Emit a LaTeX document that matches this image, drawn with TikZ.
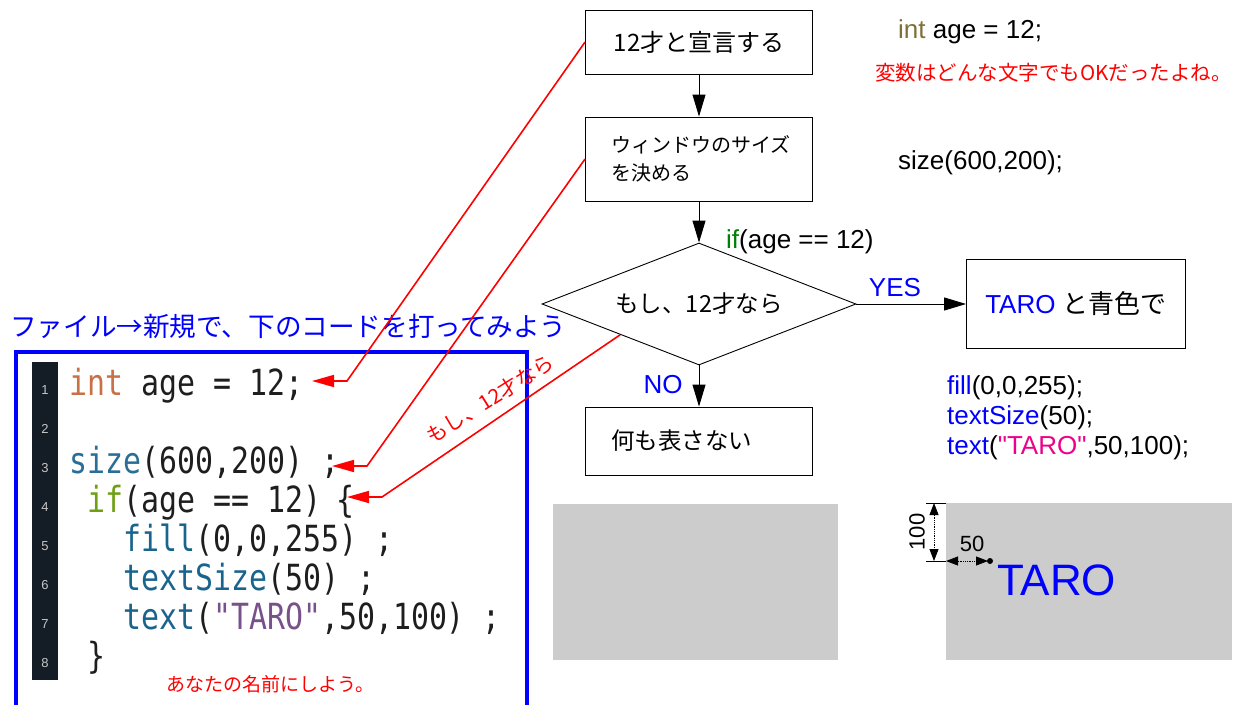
\documentclass[tikz,border=0pt]{standalone}
\usepackage{fontspec}
\setmainfont{Liberation Sans}
\newfontfamily\arialq{Liberation Sans}
\newfontfamily\jp{Noto Sans CJK JP}
\newfontfamily\codefont[FakeStretch=0.83]{DejaVu Sans Mono}
\usetikzlibrary{arrows.meta,shapes.geometric,calc}
\newcommand\myfs[1]{\fontsize{#1pt}{#1pt}\selectfont}
\definecolor{olivetxt}{RGB}{128,112,56}
\definecolor{ifgreen}{RGB}{0,128,0}
\definecolor{grayfill}{RGB}{204,204,204}
\definecolor{gutter}{RGB}{20,28,38}
\definecolor{codeint}{RGB}{200,112,72}
\definecolor{codesize}{RGB}{40,110,150}
\definecolor{codeif}{RGB}{110,160,20}
\definecolor{codefn}{RGB}{25,100,140}
\definecolor{codestr}{RGB}{120,80,140}
\definecolor{codetxt}{RGB}{30,30,30}
\tikzset{
  box/.style={draw=black, line width=0.9pt, minimum width=227pt, inner sep=0pt},
  flow/.style={line width=0.9pt, -{Triangle[length=22pt,width=13pt]}},
  redarrow/.style={red, line width=1.6pt, -{Triangle[length=22pt,width=12pt]}},
  dimarrow/.style={line width=0.8pt, densely dotted, {Triangle[length=12pt,width=9pt]}-{Triangle[length=12pt,width=9pt]}},
  lbl/.style={font=\myfs{26}},
  jpl/.style={font=\jp\myfs{23.5}},
  codeline/.style={font=\codefont\myfs{36}, text=codetxt, anchor=base west},
  lnum/.style={font=\myfs{13}, text=gray!45},
}
\begin{document}
\begin{tikzpicture}[x=1pt,y=-1pt, every node/.style={inner sep=0pt}]
\useasboundingbox (0,0) rectangle (1234,704);

% ---------- flowchart ----------
\node[box, minimum height=64pt, font=\jp\myfs{24}] (b1) at (699,42) {12才と宣言する};
\node[box, minimum height=84pt] (b2) at (699,159) {};
\node[font=\jp\fontsize{20pt}{28pt}\selectfont, anchor=west, align=left] (b2t) at (611,159) {ウィンドウのサイズ\\を決める};
\node[diamond, draw, line width=0.9pt, minimum width=314pt, minimum height=122pt] (dia) at (699,304) {};
\node[jpl] (diat) at (dia.center) {もし、12才なら};
\node[box, minimum width=219pt, minimum height=89pt, font=\myfs{26}] (yes) at (1076,304) {{\color{blue}TARO} {\jp と青色で}};
\node[box, minimum height=68pt] (no) at (699,441) {};
\node[jpl, anchor=west] (not) at (611,441) {何も表さない};

\draw[flow] (b1) -- (b2);
\draw[flow] (b2) -- (dia.north);
\draw[flow] (dia.east) -- (yes.west);
\draw[flow] (dia.south) -- (no.north);

\node[lbl, anchor=west] (ifl) at (726,242) {{\color{ifgreen}if}(age == 12)};
\node[lbl, text=blue] (yesl) at (895,288) {YES};
\node[lbl, text=blue] (nol) at (663,385) {NO};

% ---------- right side code ----------
\node[lbl, anchor=west] (r1) at (898,32) {{\color{olivetxt}int} age = 12;};
\node[font=\jp\myfs{20.5}, text=red, anchor=west] (note1) at (875,73) {変数はどんな文字でもOKだったよね。};
\node[lbl, anchor=west] (r2) at (898,163) {size(600,200);};
\node[lbl, anchor=west] (r3) at (947,388) {{\color{blue}fill}(0,0,255);};
\node[lbl, anchor=west] (r4) at (947,418) {{\color{blue}textSize}(50);};
\node[lbl, anchor=west] (r5) at (947,448) {{\color{blue}text}({\arialq\color{magenta}"TARO"},50,100);};

% ---------- gray windows ----------
\fill[grayfill] (553,504) rectangle (838,660);
\fill[grayfill] (946,503) rectangle (1232,660);

\coordinate (e1a) at (926,503); \coordinate (e1b) at (946,503);
\coordinate (e2a) at (926,561); \coordinate (e2b) at (946,561);
\draw[line width=0.8pt] (e1a) -- (e1b);
\draw[line width=0.8pt] (e2a) -- (e2b);
\coordinate (v1) at (934,503); \coordinate (v2) at (934,561);
\draw[dimarrow] (v1) -- (v2);
\coordinate (h1) at (946,561); \coordinate (h2) at (988,561);
\draw[dimarrow] (h1) -- (h2);
\fill (990,561) circle[radius=3pt];
\node[font=\myfs{22}] (d50) at (972,544) {50};
\node[font=\myfs{22}, rotate=90] (d100) at (917,532) {100};
\node[font=\myfs{44}, text=blue, anchor=base west] (taro) at (997,595) {TARO};

% ---------- left side ----------
\node[font=\jp\myfs{26.6}, text=blue, anchor=west] (hdr) at (10,326) {ファイル→新規で、下のコードを打ってみよう};
\draw[blue, line width=4pt] (16,352) rectangle (527,716);
\fill[gutter] (32,362) rectangle (58,680);
\foreach \i in {1,...,8} {
  \node[lnum] (ln\i) at (45,{390+39*(\i-1)}) {\i};
}
\node[codeline] (cl1) at (69,395) {{\color{codeint}int} age = 12;};
\node[codeline] (cl3) at (69,473) {{\color{codesize}size}(600,200) ;};
\node[codeline] (cl4) at (87,512) {{\color{codeif}if}(age == 12)\hspace{-3pt} \{};
\node[codeline] (cl5) at (123,551) {{\color{codefn}fill}(0,0,255) ;};
\node[codeline] (cl6) at (123,590) {{\color{codefn}textSize}(50) ;};
\node[codeline] (cl7) at (123,629) {{\color{codefn}text}({\color{codestr}"TARO"},50,100) ;};
\node[codeline] (cl8) at (87,668) {\}};
\node[font=\jp\myfs{19}, text=red, anchor=west] (name) at (166,684) {あなたの名前にしよう。};

% ---------- red arrows ----------
\coordinate (k1) at (347,381); \coordinate (t1) at (312,381);
\draw[redarrow] (b1.west) -- (k1) -- (t1);
\coordinate (k2) at (367,466); \coordinate (t2) at (332,466);
\draw[redarrow] (b2.west) -- (k2) -- (t2);
\coordinate (s3) at ($(dia.west)!0.5!(dia.south)$);
\coordinate (k3) at (382,497); \coordinate (t3) at (347,497);
\draw[redarrow] (s3) -- (k3) -- (t3);
\node[font=\jp\myfs{20.5}, text=red, rotate=32] (redl) at (490,399) {もし、12才なら};
\end{tikzpicture}
\end{document}
